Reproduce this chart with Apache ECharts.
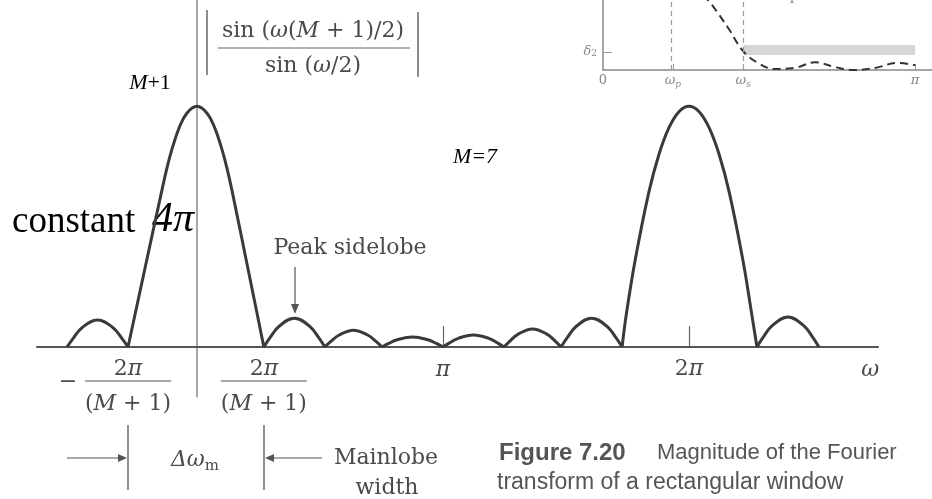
<!DOCTYPE html>
<html>
<head>
<meta charset="utf-8">
<title>Rectangular window magnitude</title>
<script src="https://cdn.jsdelivr.net/npm/echarts@6/dist/echarts.min.js"></script>
<style>
  html, body { margin: 0; padding: 0; background: #fff; }
  #chart { width: 932px; height: 499px; }
</style>
</head>
<body>
<div id="chart"></div>
<script>
  // |sin(w(M+1)/2) / sin(w/2)|, M = 7 -- x in units of pi
  const omegaPi = [
    -0.528, -0.503, -0.466, -0.404, -0.342, -0.305, -0.280, null,
    -0.280, -0.210, -0.142, -0.121, -0.099, -0.071, -0.041, 0, 0.041, 0.071, 0.099, 0.121, 0.142, 0.206, 0.272, null,
    0.272, 0.297, 0.334, 0.396, 0.458, 0.495, 0.520, null,
    0.520, 0.543, 0.578, 0.636, 0.694, 0.729, 0.752, null,
    0.752, 0.777, 0.814, 0.876, 0.938, 0.975, 1.000, null,
    1.000, 1.025, 1.062, 1.124, 1.186, 1.223, 1.248, null,
    1.248, 1.271, 1.306, 1.364, 1.422, 1.457, 1.480, null,
    1.480, 1.505, 1.542, 1.604, 1.666, 1.703, 1.728, null,
    1.728, 1.745, 1.781, 1.836, 1.877, 1.918, 1.959, 2.000, 2.041, 2.082, 2.123, 2.164, 2.219, 2.255, 2.276, null,
    2.276, 2.301, 2.339, 2.402, 2.465, 2.503, 2.528
  ]
  const magnitude = [
    0, 0.29, 0.65, 0.90, 0.65, 0.29, 0, null,
    0, 2.66, 5.22, 5.98, 6.64, 7.31, 7.77, 8.00, 7.77, 7.31, 6.64, 5.98, 5.22, 2.66, 0, null,
    0, 0.31, 0.69, 0.96, 0.69, 0.31, 0, null,
    0, 0.18, 0.40, 0.56, 0.40, 0.18, 0, null,
    0, 0.11, 0.24, 0.33, 0.24, 0.11, 0, null,
    0, 0.13, 0.29, 0.40, 0.29, 0.13, 0, null,
    0, 0.19, 0.43, 0.60, 0.43, 0.19, 0, null,
    0, 0.31, 0.69, 0.96, 0.69, 0.31, 0, null,
    0, 1.08, 2.88, 5.12, 6.38, 7.28, 7.82, 8.00, 7.82, 7.28, 6.38, 5.12, 2.88, 1.08, 0, null,
    0, 0.32, 0.72, 1.00, 0.72, 0.32, 0
  ]

  // w axis labels / ticks
  const labelValues = [-0.524, -0.280, 0.272, 1, 2, 2.736]
  const tickLabels = [
    '{m|−}',
    '{n|2}{p|π}\n{hr|}\n{d|(}{di|M}{d| + 1)}',
    '{n|2}{p|π}\n{hr|}\n{d|(}{di|M}{d| + 1)}',
    '{p1|π}',
    '{n|2}{p|π}',
    '{p1|ω}'
  ]
  const tickValues = [1, 2]

  // inset: low-pass specification sketch (cropped in the source)
  const specOmegaPi = [0.321, 0.349, 0.401, 0.449, 0.497, 0.551, 0.615, 0.679, 0.744, 0.801, 0.872, 0.942, 1.000]
  const specResponse = [1.07, 0.93, 0.60, 0.27, 0.10, 0.014, 0.03, 0.11, 0.04, 0.0, 0.03, 0.10, 0.07]
  const specEdges = [0.224, 0.449] // wp, ws
  const specBand = [0.214, 0.357]
  const specBandEnd = 1
  const specLabelValues = [0, 0.224, 0.449, 1]
  const specLabels = ['{t|0}', '{i|ω}{s|p}', '{i|ω}{s|s}', '{i|π}']
  const specDelta = 0.26

  const ink = '#4a4a4a'
  const serif = 'DejaVu Serif'
  const times = 'Liberation Serif'

  const chart = echarts.init(document.getElementById('chart'))

  const txt = (x, y, text, rich, align) => ({
    type: 'text',
    x: x,
    y: y,
    silent: true,
    style: {
      text: text,
      rich: rich,
      fill: ink,
      font: '22px "' + serif + '"',
      align: align || 'center',
      textAlign: align || 'center',
      verticalAlign: 'middle',
      textVerticalAlign: 'middle'
    }
  })
  const seg = (x1, y1, x2, y2, w, c) => ({
    type: 'line',
    silent: true,
    shape: { x1: x1, y1: y1, x2: x2, y2: y2 },
    style: { stroke: c || '#555', lineWidth: w || 1.3 }
  })
  const head = (pts) => ({ type: 'polygon', silent: true, shape: { points: pts }, style: { fill: '#555' } })
  const plain = (x, y, text, font, fill, align) => ({
    type: 'text',
    x: x,
    y: y,
    silent: true,
    style: { text: text, font: font, fill: fill, align: align, textAlign: align, verticalAlign: 'middle', textVerticalAlign: 'middle' }
  })

  const formulaRich = {
    r: { fontFamily: serif, fontSize: 22, fill: ink },
    i: { fontFamily: serif, fontSize: 22, fontStyle: 'italic', fill: ink }
  }
  const blackRich = {
    i: { fontFamily: times, fontSize: 22, fontStyle: 'italic', fill: '#000' },
    r: { fontFamily: times, fontSize: 22, fill: '#000' }
  }

  chart.setOption({
    animation: false,
    grid: [
      { left: 37, right: 54, top: 0, bottom: 102 }, // main plot
      { left: 603, right: 0, top: 0, height: 70 } // inset
    ],
    xAxis: [{
      type: 'value',
      min: -0.650,
      max: 2.768,
      gridIndex: 0,
      axisLine: { onZero: true, lineStyle: { color: '#555', width: 2 } },
      axisTick: { show: true, inside: true, length: 21, customValues: tickValues, lineStyle: { color: '#666', width: 1.2 } },
      axisLabel: {
        show: true,
        margin: -40, // labels sit under the zero line, not the grid edge
        customValues: labelValues,
        formatter: (v) => tickLabels[labelValues.indexOf(v)],
        rich: {
          m: { fontFamily: serif, fontSize: 22, color: ink, lineHeight: 50 },
          n: { fontFamily: serif, fontSize: 22, color: ink, lineHeight: 24 },
          p: { fontFamily: serif, fontSize: 22, fontStyle: 'italic', color: ink, lineHeight: 24 },
          p1: { fontFamily: serif, fontSize: 22, fontStyle: 'italic', color: ink, lineHeight: 26 },
          hr: { width: 86, height: 0, borderColor: '#777', borderWidth: 0.8 },
          d: { fontFamily: serif, fontSize: 22, color: ink, lineHeight: 46 },
          di: { fontFamily: serif, fontSize: 22, fontStyle: 'italic', color: ink, lineHeight: 46 }
        }
      },
      splitLine: { show: false }
    }, {
      type: 'value',
      min: 0,
      max: 1.054,
      gridIndex: 1,
      axisLine: { onZero: true, lineStyle: { color: '#888', width: 1.5 } },
      axisTick: { show: true, inside: true, length: 6, customValues: [0.224, 0.449, 1], lineStyle: { color: '#999' } },
      axisLabel: {
        show: true,
        margin: 3,
        customValues: specLabelValues,
        formatter: (v) => specLabels[specLabelValues.indexOf(v)],
        rich: {
          t: { fontFamily: serif, fontSize: 13, color: '#888', lineHeight: 16 },
          i: { fontFamily: serif, fontSize: 13, fontStyle: 'italic', color: '#888', lineHeight: 16 },
          s: { fontFamily: serif, fontSize: 9, fontStyle: 'italic', color: '#888', verticalAlign: 'bottom', lineHeight: 16 }
        }
      },
      splitLine: { show: false }
    }],
    yAxis: [{
      type: 'value',
      min: -1.66,
      max: 11.53,
      gridIndex: 0,
      axisLine: { show: true, onZero: true, lineStyle: { color: '#888', width: 1.5 } },
      axisTick: { show: false },
      axisLabel: { show: false },
      splitLine: { show: false }
    }, {
      type: 'value',
      min: 0,
      max: 1,
      gridIndex: 1,
      axisLine: { show: true, onZero: true, lineStyle: { color: '#888', width: 1.5 } },
      axisTick: { show: true, inside: true, length: 9, customValues: [specDelta], lineStyle: { color: '#999' } },
      axisLabel: {
        show: true,
        margin: 6,
        customValues: [specDelta],
        formatter: () => '{i|δ}{s|2}',
        rich: {
          i: { fontFamily: serif, fontSize: 13, fontStyle: 'italic', color: '#888' },
          s: { fontFamily: serif, fontSize: 9, color: '#888', verticalAlign: 'bottom' }
        }
      },
      splitLine: { show: false }
    }],
    series: [{
      type: 'line',
      xAxisIndex: 0,
      yAxisIndex: 0,
      data: omegaPi.map((w, i) => magnitude[i] === null ? ['-', '-'] : [w, magnitude[i]]),
      showSymbol: false,
      connectNulls: false,
      smooth: 0.4,
      lineStyle: { color: '#3a3a3a', width: 3 },
      silent: true
    }, {
      type: 'line',
      xAxisIndex: 1,
      yAxisIndex: 1,
      data: specOmegaPi.map((w, i) => [w, specResponse[i]]),
      showSymbol: false,
      smooth: 0.4,
      lineStyle: { color: '#333', width: 2, type: [8, 5] },
      silent: true,
      markLine: {
        silent: true,
        symbol: 'none',
        label: { show: false },
        lineStyle: { color: '#999', width: 1.2, type: [5, 4] },
        data: specEdges.map((v) => ({ xAxis: v }))
      },
      markArea: {
        silent: true,
        itemStyle: { color: '#d6d6d6' },
        data: [[{ xAxis: specEdges[1], yAxis: specBand[0] }, { xAxis: specBandEnd, yAxis: specBand[1] }]]
      }
    }],
    graphic: [
      // |numerator / denominator|
      txt(313, 31, '{r|sin (}{i|ω}{r|(}{i|M}{r| + 1)/2)}', formulaRich),
      seg(218, 48, 410, 48, 1.2, '#666'),
      txt(313, 66, '{r|sin (}{i|ω}{r|/2)}', formulaRich),
      seg(207, 10, 207, 75, 1.5, '#666'),
      seg(418, 12, 418, 77, 1.5, '#666'),
      // hand-added labels
      txt(150, 83, '{i|M}{r|+1}', blackRich),
      txt(475, 157, '{i|M=7}', blackRich),
      txt(12, 222, '{r|constant}', { r: { fontFamily: times, fontSize: 37, fill: '#000' } }, 'left'),
      txt(152, 220, '{i|4π}', { i: { fontFamily: times, fontSize: 42, fontStyle: 'italic', fill: '#000' } }, 'left'),
      // peak sidelobe callout
      txt(350, 248, 'Peak sidelobe', { }),
      seg(295, 267, 295, 308, 1.2),
      head([[291, 304], [299, 304], [295, 314]]),
      // mainlobe width
      seg(128, 425, 128, 490, 1.3),
      seg(264, 425, 264, 490, 1.3),
      seg(67, 458, 120, 458, 1.2),
      head([[118, 454], [118, 462], [127, 458]]),
      seg(322, 458, 273, 458, 1.2),
      head([[274, 454], [274, 462], [265, 458]]),
      txt(195, 460, '{i|Δω}{s|m}', { i: { fontFamily: serif, fontSize: 22, fontStyle: 'italic', fill: ink }, s: { fontFamily: serif, fontSize: 15, fill: ink, verticalAlign: 'bottom', padding: [12, 0, 0, 0] } }),
      txt(386, 458, 'Mainlobe', {}),
      txt(387, 488, 'width', {}),
      // caption
      plain(499, 453, 'Figure 7.20', 'bold 24px "Liberation Sans"', '#555', 'left'),
      plain(657, 453, 'Magnitude of the Fourier', '22px "Liberation Sans"', '#555', 'left'),
      plain(497, 483, 'transform of a rectangular window', '23px "Liberation Sans"', '#555', 'left'),
      // inset band titles, cut by the top edge
      plain(638, -4, 'Passband', '14px "DejaVu Serif"', '#888', 'center'),
      plain(709, -4, 'Transition', '14px "DejaVu Serif"', '#888', 'center'),
      plain(800, -4, 'Stopband', '14px "DejaVu Serif"', '#888', 'center')
    ]
  })
</script>
</body>
</html>
